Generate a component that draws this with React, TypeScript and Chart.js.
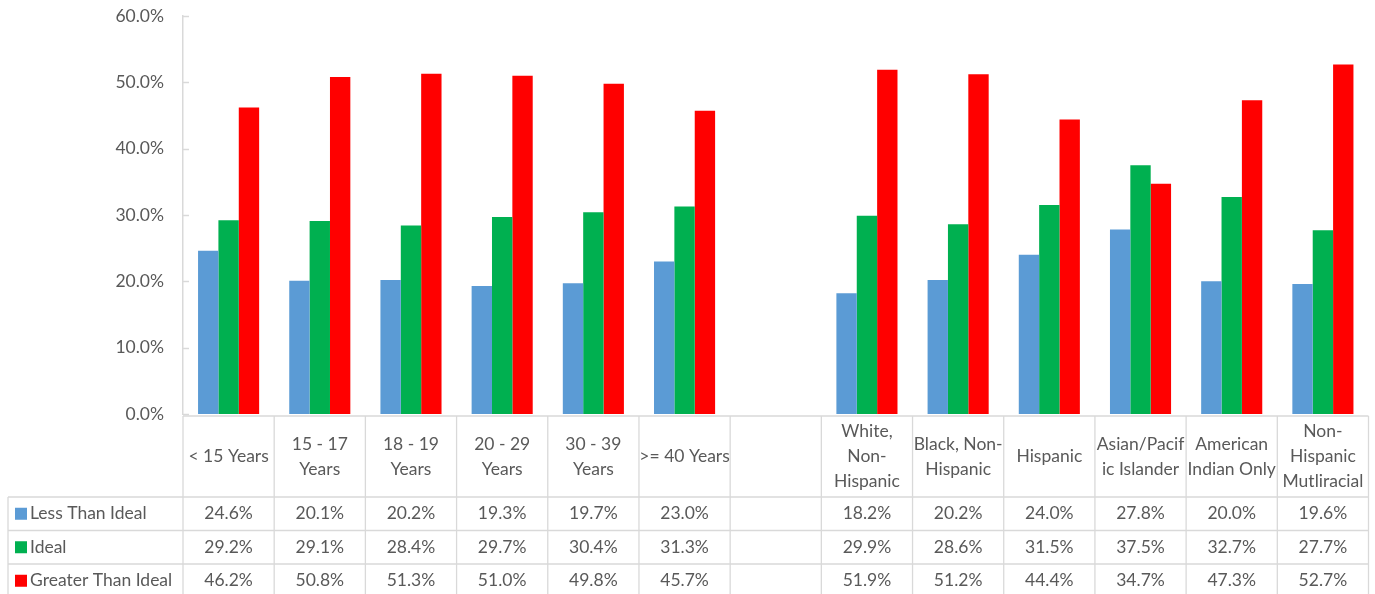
import React, { useEffect, useRef } from "react";
import { Chart, registerables } from "chart.js";

Chart.register(...registerables);

const categories: string[][] = [
  ["< 15 Years"],
  ["15 - 17", "Years"],
  ["18 - 19", "Years"],
  ["20 - 29", "Years"],
  ["30 - 39", "Years"],
  [">= 40 Years"],
  [""],
  ["White,", "Non-", "Hispanic"],
  ["Black, Non-", "Hispanic"],
  ["Hispanic"],
  ["Asian/Pacif", "ic Islander"],
  ["American", "Indian Only"],
  ["Non-", "Hispanic", "Mutliracial"],
];

const lessThanIdeal: (number | null)[] = [24.6, 20.1, 20.2, 19.3, 19.7, 23.0, null, 18.2, 20.2, 24.0, 27.8, 20.0, 19.6];
const ideal: (number | null)[] = [29.2, 29.1, 28.4, 29.7, 30.4, 31.3, null, 29.9, 28.6, 31.5, 37.5, 32.7, 27.7];
const greaterThanIdeal: (number | null)[] = [46.2, 50.8, 51.3, 51.0, 49.8, 45.7, null, 51.9, 51.2, 44.4, 34.7, 47.3, 52.7];

const seriesNames = ["Less Than Ideal", "Ideal", "Greater Than Ideal"];
const seriesColors = ["#5B9BD5", "#00B050", "#FF0000"];
const seriesValues = [lessThanIdeal, ideal, greaterThanIdeal];

const yMin = 0;
const yMax = 60;
const yStep = 10;

const FONT = "Lato";
const FONT_SIZE = 17.5;
const TEXT = "#595959";
const GRID = "#d9d9d9";

const tablePlugin = {
  id: "dataTable",
  afterDraw(chart: any) {
    const ctx: CanvasRenderingContext2D = chart.ctx;
    const area = chart.chartArea;
    const xs = chart.scales.x;
    const ys = chart.scales.y;
    const n = categories.length;
    const w = xs.width / n;
    const left = area.left;
    const right = area.right;
    const headerTop = area.bottom + 2;
    const headerBottom = headerTop + 81;
    const rowH = 33.5;
    const tableLeft = 8;
    const bottom = headerBottom + rowH * 3 + 2;

    ctx.save();
    ctx.strokeStyle = GRID;
    ctx.lineWidth = 1.5;
    ys.ticks.forEach((t: any) => {
      const y = Math.round(ys.getPixelForValue(t.value)) + 0.5;
      ctx.beginPath();
      ctx.moveTo(left, y);
      ctx.lineTo(left + 6, y);
      ctx.stroke();
    });

    ctx.lineWidth = 1.3;
    const hLine = (x1: number, x2: number, y: number) => {
      ctx.beginPath();
      ctx.moveTo(x1, y);
      ctx.lineTo(x2, y);
      ctx.stroke();
    };
    const vLine = (x: number, y1: number, y2: number) => {
      ctx.beginPath();
      ctx.moveTo(x, y1);
      ctx.lineTo(x, y2);
      ctx.stroke();
    };
    hLine(left, right, headerTop);
    hLine(tableLeft, right, headerBottom);
    for (let r = 1; r <= 3; r++) hLine(tableLeft, right, headerBottom + r * rowH);
    for (let i = 0; i <= n; i++) {
      const x = i < n ? xs.getPixelForValue(i) - w / 2 : xs.getPixelForValue(n - 1) + w / 2;
      vLine(x, headerTop, bottom);
    }
    vLine(tableLeft, headerBottom, bottom);

    ctx.fillStyle = TEXT;
    ctx.font = `${FONT_SIZE}px ${FONT}`;
    ctx.textBaseline = "middle";
    ctx.textAlign = "center";
    const lineH = 25;
    const headerMid = (headerTop + headerBottom) / 2;
    categories.forEach((lines, i) => {
      const cx = xs.getPixelForValue(i);
      const start = headerMid - ((lines.length - 1) * lineH) / 2;
      lines.forEach((ln, k) => ctx.fillText(ln, cx, start + k * lineH));
    });

    seriesValues.forEach((vals, s) => {
      const cy = headerBottom + rowH * s + rowH / 2;
      vals.forEach((v, i) => {
        if (v === null) return;
        ctx.textAlign = "center";
        ctx.fillText(v.toFixed(1) + "%", xs.getPixelForValue(i), cy);
      });
      ctx.fillStyle = seriesColors[s];
      ctx.fillRect(15, cy - 6, 12, 12);
      ctx.fillStyle = TEXT;
      ctx.textAlign = "left";
      ctx.fillText(seriesNames[s], 30, cy);
    });
    ctx.restore();
  },
};

export default function App() {
  const ref = useRef<HTMLCanvasElement | null>(null);
  useEffect(() => {
    if (!ref.current) return;
    const chart = new Chart(ref.current, {
      type: "bar",
      data: {
        labels: categories.map((c) => c.join(" ")),
        datasets: seriesNames.map((name, s) => ({
          label: name,
          data: seriesValues[s],
          backgroundColor: seriesColors[s],
          borderWidth: 0,
          categoryPercentage: 0.67,
          barPercentage: 1.0,
        })),
      },
      options: {
        animation: false,
        responsive: false,
        devicePixelRatio: 1,
        layout: { padding: { left: 0, top: 16, right: 6.5, bottom: 180 } },
        plugins: { legend: { display: false }, tooltip: { enabled: false } },
        scales: {
          x: { display: false },
          y: {
            min: yMin,
            max: yMax,
            ticks: {
              stepSize: yStep,
              padding: 11,
              color: TEXT,
              font: { family: FONT, size: FONT_SIZE },
              callback: (v: any) => Number(v).toFixed(1) + "%",
            },
            grid: { display: false },
            border: { display: true, color: GRID, width: 1.5 },
            afterFit: (s: any) => {
              s.width = 183;
              s.paddingTop = 0;
              s.paddingBottom = 0;
            },
          },
        },
      },
      plugins: [tablePlugin],
    });
    return () => chart.destroy();
  }, []);
  return (
    <canvas
      ref={ref}
      width={1375}
      height={594}
      style={{ position: "absolute", left: 0, top: 0, display: "block" }}
    />
  );
}
